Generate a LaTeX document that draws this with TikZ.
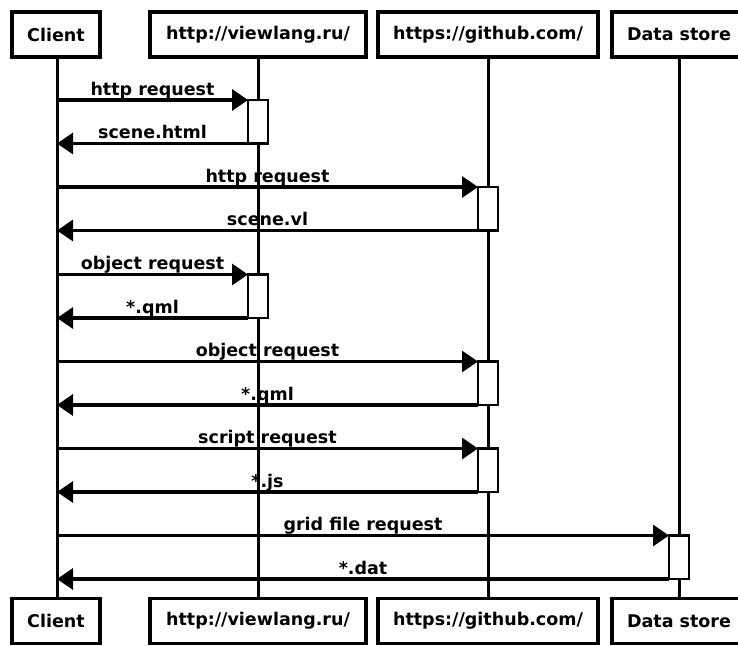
\documentclass[tikz,border=0pt]{standalone}
\usepackage{fontspec}
\setmainfont{DejaVu Sans}
\usetikzlibrary{arrows.meta}
\begin{document}
\begin{tikzpicture}[x=1pt,y=-1pt,
  actor/.style={draw,line width=3.6pt,fill=white,minimum height=45pt,inner sep=0pt,font=\fontsize{17.5}{20}\selectfont\bfseries},
  life/.style={line width=3pt},
  act/.style={draw,line width=2.8pt,fill=white,minimum width=20pt,minimum height=43.5pt,inner sep=0pt,outer sep=0pt,anchor=north},
  msg/.style={line width=3.2pt,-{Triangle[length=16pt,width=21pt]}},
  lbl/.style={anchor=base,font=\fontsize{17.5}{20}\selectfont\bfseries,inner sep=0pt,yshift=5pt}]
\useasboundingbox (0,0) rectangle (738,645);
\clip (0,0) rectangle (738,645);
\fill[white] (0,0) rectangle (738,645);
% top actors
\node[actor,minimum width=88pt] (tc) at (56,34.5) {Client};
\node[actor,minimum width=216pt] (tv) at (258,34.5) {http://viewlang.ru/};
\node[actor,minimum width=220pt] (tg) at (488,34.5) {https://github.com/};
\node[actor,minimum width=134pt] (td) at (679,34.5) {Data store};
% bottom actors
\node[actor,minimum width=88pt] (bc) at (56,621) {Client};
\node[actor,minimum width=216pt] (bv) at (258,621) {http://viewlang.ru/};
\node[actor,minimum width=220pt] (bg) at (488,621) {https://github.com/};
\node[actor,minimum width=134pt] (bd) at (679,621) {Data store};
% lifelines
\draw[life] (57,57) -- (57,599);
\draw[life] (tv.south) -- (bv.north);
\draw[life] (tg.south) -- (bg.north);
\draw[life] (td.south) -- (bd.north);
% activations
\node[act] (a1) at (258,100) {};
\node[act] (a2) at (488,187) {};
\node[act] (a3) at (258,274.5) {};
\node[act] (a4) at (488,361.5) {};
\node[act] (a5) at (488,448.5) {};
\node[act] (a6) at (679,535.5) {};
% client-side coordinates
\coordinate (c1) at (57,100);
\coordinate (r1) at (57,143.5);
\coordinate (c2) at (57,187);
\coordinate (r2) at (57,230.5);
\coordinate (c3) at (57,274.5);
\coordinate (r3) at (57,318);
\coordinate (c4) at (57,361.5);
\coordinate (r4) at (57,405);
\coordinate (c5) at (57,448.5);
\coordinate (r5) at (57,492);
\coordinate (c6) at (57,535.5);
\coordinate (r6) at (57,579);
% messages
\draw[msg] (c1) -- node[lbl]{http request} (a1.north west);
\draw[msg] (a1.south west) -- node[lbl]{scene.html} (r1);
\draw[msg] (c2) -- node[lbl]{http request} (a2.north west);
\draw[msg] (a2.south west) -- node[lbl]{scene.vl} (r2);
\draw[msg] (c3) -- node[lbl]{object request} (a3.north west);
\draw[msg] (a3.south west) -- node[lbl]{*.qml} (r3);
\draw[msg] (c4) -- node[lbl]{object request} (a4.north west);
\draw[msg] (a4.south west) -- node[lbl]{*.qml} (r4);
\draw[msg] (c5) -- node[lbl]{script request} (a5.north west);
\draw[msg] (a5.south west) -- node[lbl]{*.js} (r5);
\draw[msg] (c6) -- node[lbl]{grid file request} (a6.north west);
\draw[msg] (a6.south west) -- node[lbl]{*.dat} (r6);
\end{tikzpicture}
\end{document}
